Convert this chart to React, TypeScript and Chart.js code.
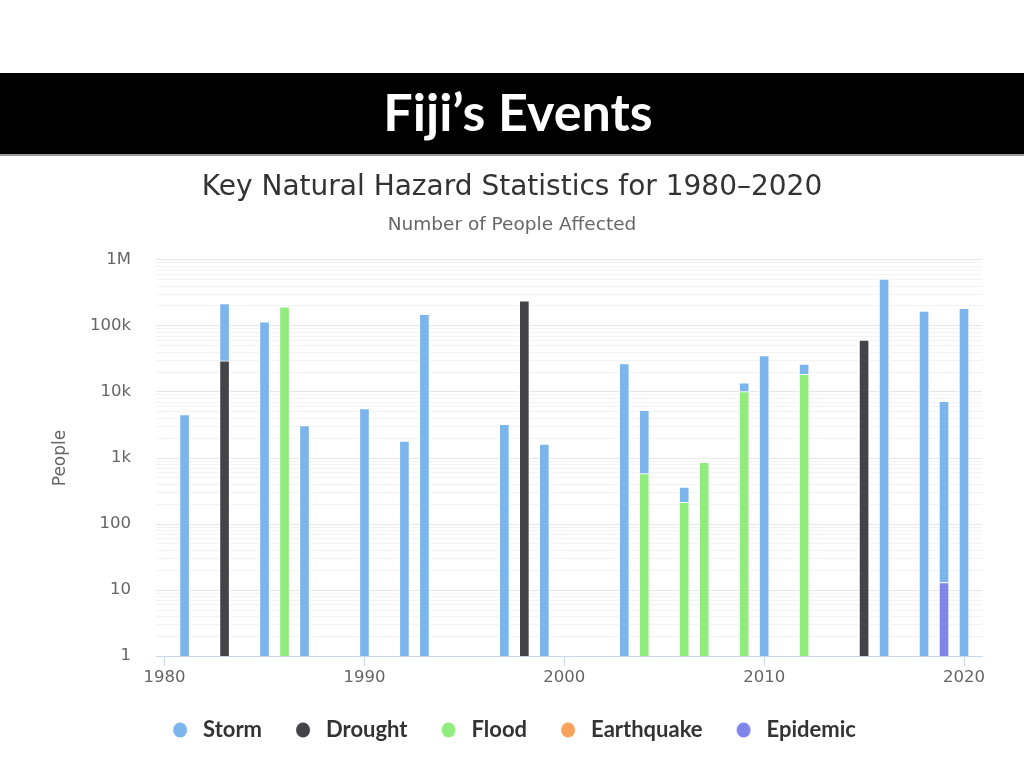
import React, { useEffect, useRef } from "react";
import { Chart, registerables } from "chart.js";

Chart.register(...registerables);

// ---- Data ----
const years = [1981, 1983, 1985, 1986, 1987, 1990, 1992, 1993, 1997, 1998, 1999, 2003, 2004, 2006, 2007, 2009, 2010, 2012, 2015, 2016, 2018, 2019, 2020];
const storm = [4550, 188000, 115000, null, 3100, 5600, 1810, 150000, 3240, null, 1630, 26900, 4700, 151, null, 3600, 35600, 7800, null, 510000, 167000, 7220, 184000];
const drought = [null, 29500, null, null, null, null, null, null, null, 239000, null, null, null, null, null, null, null, null, 60700, null, null, null, null];
const flood = [null, null, null, 194000, null, null, null, null, null, null, null, null, 580, 213, 860, 10100, null, 18500, null, null, null, null, null];
const earthquake = [null, null, null, null, null, null, null, null, null, null, null, null, null, null, null, null, null, null, null, null, null, null, null];
const epidemic = [null, null, null, null, null, null, null, null, null, null, null, null, null, null, null, null, null, null, null, null, null, 13, null];

const xTickValues = [1980, 1990, 2000, 2010, 2020];
const yTickValues = [1, 10, 100, 1000, 10000, 100000, 1000000];
const yTickLabels = ["1", "10", "100", "1k", "10k", "100k", "1M"];

const seriesNames = ["Storm", "Drought", "Flood", "Earthquake", "Epidemic"];
const seriesColors = ["#7cb5ec", "#434348", "#90ed7d", "#f7a35c", "#8085e9"];

const toPoints = (vals: (number | null)[]) =>
  years.map((x, i) => ({ x, y: vals[i] })).filter((p) => p.y !== null);

function makeDot(color: string) {
  const c = document.createElement("canvas");
  c.width = 24;
  c.height = 16;
  const g = c.getContext("2d")!;
  g.fillStyle = color;
  g.beginPath();
  g.ellipse(12, 8, 7, 7.6, 0, 0, Math.PI * 2);
  g.fill();
  return c;
}

export default function App() {
  const ref = useRef<HTMLCanvasElement>(null);

  useEffect(() => {
    document.body.style.margin = "0";
    const valuesBySeries = [storm, drought, flood, earthquake, epidemic];
    // stacking order bottom -> top: Epidemic, Earthquake, Flood, Drought, Storm
    const order = [4, 3, 2, 1, 0];
    const dots = seriesColors.map(makeDot);
    const datasets = order.map((s) => ({
      label: seriesNames[s],
      data: toPoints(valuesBySeries[s]),
      backgroundColor: seriesColors[s],
      borderColor: "#ffffff",
      borderWidth: 1,
      barThickness: 10,
      seriesIdx: s,
    }));

    // minor + major log grid ticks
    const yGridTicks: { value: number; major: boolean }[] = [];
    for (let e = 0; e <= 6; e++) {
      for (let m = 1; m <= 9; m++) {
        const v = m * Math.pow(10, e);
        if (v > 1000000) break;
        yGridTicks.push({ value: v, major: m === 1 });
      }
    }

    const font = "'DejaVu Sans', sans-serif";

    const chart = new Chart(ref.current!, {
      type: "bar",
      data: { datasets: datasets as any },
      options: {
        animation: false,
        responsive: false,
        layout: { padding: { left: 0, right: 0, top: 0, bottom: 17 } },
        plugins: {
          title: {
            display: true,
            text: "Key Natural Hazard Statistics for 1980–2020",
            color: "#333333",
            font: { family: font, size: 28, weight: "normal" },
            padding: { top: 11, bottom: 9 },
          },
          subtitle: {
            display: true,
            text: "Number of People Affected",
            color: "#666666",
            font: { family: font, size: 18.5, weight: "normal" },
            padding: { top: 0, bottom: 24 },
          },
          legend: {
            position: "bottom",
            reverse: true,
            labels: {
              usePointStyle: true,
              pointStyleWidth: 24,
              boxHeight: 16,
              color: "#333333",
              font: { family: "Lato, sans-serif", size: 22, weight: "bold" },
              padding: 29,
              generateLabels: (ch: any) =>
                Chart.defaults.plugins.legend.labels
                  .generateLabels(ch)
                  .map((it: any) => ({
                    ...it,
                    pointStyle: dots[(ch.data.datasets[it.datasetIndex] as any).seriesIdx],
                  })),
            },
          },
          tooltip: { enabled: false },
        },
        scales: {
          x: {
            type: "linear",
            stacked: true,
            offset: false,
            min: 1979.57,
            max: 2020.9,
            afterBuildTicks: (scale: any) => {
              scale.ticks = xTickValues.map((v) => ({ value: v }));
            },
            ticks: {
              callback: (v: any) => String(v),
              color: "#666666",
              font: { family: font, size: 16.5 },
              padding: 2,
              maxRotation: 0,
              autoSkip: false,
            },
            grid: {
              offset: false,
              drawOnChartArea: false,
              drawTicks: true,
              tickLength: 10,
              color: "#ccd6eb",
            },
            border: { color: "#ccd6eb" },
          },
          y: {
            type: "logarithmic",
            stacked: true,
            min: 1,
            max: 1000000,
            afterBuildTicks: (scale: any) => {
              scale.ticks = yGridTicks.map((t) => ({ ...t }));
            },
            afterFit: (scale: any) => {
              scale.width = 156;
            },
            ticks: {
              autoSkip: false,
              color: "#666666",
              font: { family: font, size: 16.5 },
              padding: 25,
              callback: (v: any) => {
                const i = yTickValues.indexOf(Number(v));
                return i >= 0 ? yTickLabels[i] : "";
              },
            },
            grid: {
              drawTicks: false,
              color: (ctx: any) => (ctx.tick && ctx.tick.major ? "#e6e6e6" : "#f3f3f3"),
            },
            border: { display: false },
            title: {
              display: true,
              text: "People",
              color: "#666666",
              font: { family: font, size: 17 },
              padding: { top: 50, bottom: 0 },
            },
          },
          // empty right-hand spacer so the plot ends where the reference's does
          yRight: {
            type: "linear",
            position: "right",
            display: true,
            ticks: { display: false },
            grid: { display: false, drawTicks: false },
            border: { display: false },
            afterFit: (scale: any) => {
              scale.width = 42;
            },
          },
        },
      },
    });
    return () => chart.destroy();
  }, []);

  return (
    <div style={{ position: "relative", width: 1024, height: 768, background: "#ffffff", overflow: "hidden" }}>
      <div
        style={{
          position: "absolute",
          top: 73,
          left: 0,
          width: 1024,
          height: 83,
          background: "#000000",
          borderBottom: "2px solid #9a9a9a",
          boxSizing: "border-box",
          color: "#ffffff",
          fontFamily: "Lato, sans-serif",
          fontWeight: 700,
          fontSize: 52,
          textAlign: "center",
          lineHeight: "76px",
          paddingLeft: 12,
        }}
      >
        Fiji’s Events
      </div>
      <div style={{ position: "absolute", top: 160, left: 0, width: 1024, height: 608 }}>
        <canvas ref={ref} width={1024} height={608} />
      </div>
    </div>
  );
}
